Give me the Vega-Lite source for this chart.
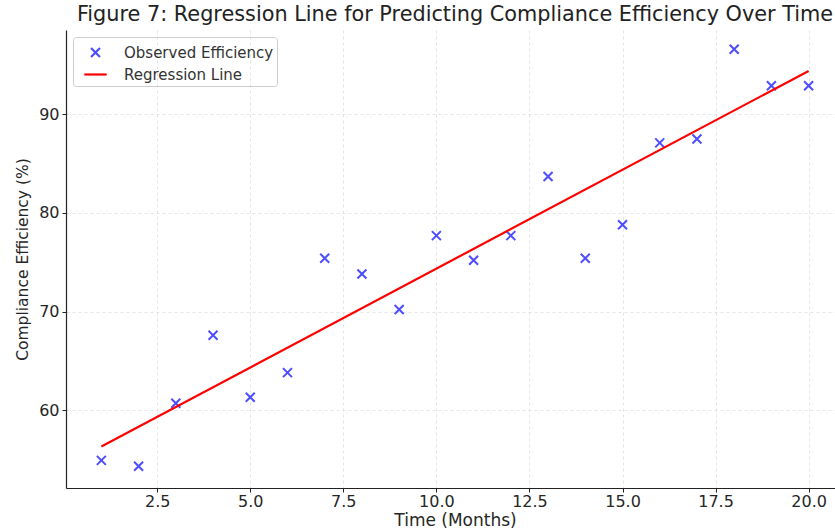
{
  "$schema": "https://vega.github.io/schema/vega-lite/v6.json",
  "autosize": "none",
  "padding": {"left": 66, "top": 30, "right": 0, "bottom": 42},
  "width": 778,
  "height": 458,
  "background": "white",
  "title": {
    "text": "Figure 7: Regression Line for Predicting Compliance Efficiency Over Time",
    "font": "DejaVu Sans",
    "fontSize": 20.8,
    "fontWeight": "normal",
    "color": "#222",
    "anchor": "middle",
    "offset": 4
  },
  "config": {
    "view": {"stroke": null},
    "axis": {
      "labelFont": "DejaVu Sans",
      "labelFontSize": 16,
      "labelColor": "#262626",
      "titleFont": "DejaVu Sans",
      "titleFontSize": 17,
      "titleFontWeight": "normal",
      "titleColor": "#262626",
      "domainColor": "#222",
      "domainWidth": 1.2,
      "tickColor": "#222",
      "tickSize": 4,
      "gridColor": "#dddddd",
      "gridDash": [3, 3],
      "gridWidth": 0.8
    }
  },
  "datasets": {
    "obs": [
      {"time": 1, "eff": 54.9, "series": "Observed Efficiency"},
      {"time": 2, "eff": 54.3, "series": "Observed Efficiency"},
      {"time": 3, "eff": 60.7, "series": "Observed Efficiency"},
      {"time": 4, "eff": 67.6, "series": "Observed Efficiency"},
      {"time": 5, "eff": 61.3, "series": "Observed Efficiency"},
      {"time": 6, "eff": 63.8, "series": "Observed Efficiency"},
      {"time": 7, "eff": 75.4, "series": "Observed Efficiency"},
      {"time": 8, "eff": 73.8, "series": "Observed Efficiency"},
      {"time": 9, "eff": 70.2, "series": "Observed Efficiency"},
      {"time": 10, "eff": 77.7, "series": "Observed Efficiency"},
      {"time": 11, "eff": 75.2, "series": "Observed Efficiency"},
      {"time": 12, "eff": 77.7, "series": "Observed Efficiency"},
      {"time": 13, "eff": 83.7, "series": "Observed Efficiency"},
      {"time": 14, "eff": 75.4, "series": "Observed Efficiency"},
      {"time": 15, "eff": 78.8, "series": "Observed Efficiency"},
      {"time": 16, "eff": 87.1, "series": "Observed Efficiency"},
      {"time": 17, "eff": 87.5, "series": "Observed Efficiency"},
      {"time": 18, "eff": 96.6, "series": "Observed Efficiency"},
      {"time": 19, "eff": 92.9, "series": "Observed Efficiency"},
      {"time": 20, "eff": 92.9, "series": "Observed Efficiency"}
    ],
    "fit": [
      {"time": 1, "eff": 56.3, "series": "Regression Line"},
      {"time": 20, "eff": 94.4, "series": "Regression Line"}
    ]
  },
  "encoding": {
    "x": {
      "field": "time",
      "type": "quantitative",
      "scale": {"domain": [0.05, 20.95], "nice": false, "zero": false},
      "axis": {"values": [2.5, 5, 7.5, 10, 12.5, 15, 17.5, 20], "format": ".1f", "title": "Time (Months)", "titlePadding": 3, "labelPadding": 1}
    },
    "y": {
      "field": "eff",
      "type": "quantitative",
      "scale": {"domain": [52.1, 98.55], "nice": false, "zero": false},
      "axis": {"values": [60, 70, 80, 90], "title": "Compliance Efficiency (%)", "titleFontSize": 15.5, "titlePadding": 8, "labelPadding": 3}
    },
    "color": {
      "field": "series",
      "type": "nominal",
      "scale": {"domain": ["Observed Efficiency", "Regression Line"], "range": ["#4d4dff", "#ff0000"]},
      "legend": {
        "title": null,
        "orient": "top-left",
        "offset": 7,
        "labelFont": "DejaVu Sans",
        "labelFontSize": 15,
        "labelColor": "#333",
        "strokeColor": "#cccccc",
        "cornerRadius": 3,
        "padding": 3,
        "symbolSize": 500,
        "symbolOffset": 7,
        "rowPadding": 0,
        "labelOffset": 16,
        "encode": {
          "symbols": {
            "update": {
              "shape": {"signal": "datum.value === 'Observed Efficiency' ? 'M-0.4,-0.4L0.4,0.4M0.4,-0.4L-0.4,0.4' : 'stroke'"},
              "strokeWidth": {"value": 2.2},
              "fill": {"value": "transparent"}
            }
          }
        }
      }
    }
  },
  "layer": [
    {
      "data": {"name": "obs"},
      "mark": {"type": "point", "shape": "M-1,-1L1,1M1,-1L-1,1", "size": 81, "strokeWidth": 2, "filled": false, "opacity": 1}
    },
    {
      "data": {"name": "fit"},
      "mark": {"type": "line", "strokeWidth": 2.2}
    }
  ]
}
